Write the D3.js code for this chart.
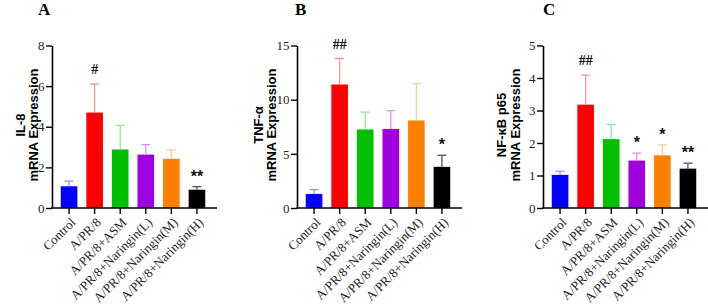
<!DOCTYPE html>
<html><head><meta charset="utf-8">
<script src="https://cdn.jsdelivr.net/npm/d3@7"></script>
<style>
body{margin:0;background:#fff;}
svg{display:block;}
</style></head>
<body>
<svg id="chart" width="708" height="304"></svg>
<script>
const categories = ["Control","A/PR/8","A/PR/8+ASM","A/PR/8+Naringin(L)","A/PR/8+Naringin(M)","A/PR/8+Naringin(H)"];
const barColors = ["#0000ff","#ff0000","#00c000","#a000e0","#ff8000","#000000"];
const errColors = ["#8c8cff","#ff8c8c","#8ce68c","#d68cff","#ffc88c","#444444"];

const il8Mean = [1.07, 4.7, 2.88, 2.63, 2.42, 0.9];
const il8Err  = [0.25, 1.4, 1.19, 0.49, 0.44, 0.15];
const il8Marks = ["", "#", "", "", "", "**"];
const il8Ticks = [0, 2, 4, 6, 8];

const tnfMean = [1.3, 11.4, 7.25, 7.3, 8.08, 3.8];
const tnfErr  = [0.4, 2.4, 1.6, 1.68, 3.4, 1.07];
const tnfMarks = ["", "##", "", "", "", "*"];
const tnfTicks = [0, 5, 10, 15];

const nfkbMean = [1.02, 3.18, 2.12, 1.46, 1.62, 1.21];
const nfkbErr  = [0.11, 0.91, 0.45, 0.23, 0.32, 0.17];
const nfkbMarks = ["", "##", "", "*", "*", "**"];
const nfkbTicks = [0, 1, 2, 3, 4, 5];

const panels = [
  {letter:"A", lx:38, x0:52, title:["IL-8","mRNA Expression"], tx:[25,38], mean:il8Mean, err:il8Err, marks:il8Marks, ticks:il8Ticks},
  {letter:"B", lx:295, x0:297, title:["TNF-α","mRNA Expression"], tx:[263,276], mean:tnfMean, err:tnfErr, marks:tnfMarks, ticks:tnfTicks},
  {letter:"C", lx:543, x0:543, title:["NF-κB p65","mRNA Expression"], tx:[506,520], mean:nfkbMean, err:nfkbErr, marks:nfkbMarks, ticks:nfkbTicks}
];

const svg = d3.select("#chart");
const yBottom = 208, yTopPx = 45.5;
const serif = "'Liberation Serif','Times New Roman',serif";
const sans = "'Liberation Sans',Arial,sans-serif";

panels.forEach(p => {
  const g = svg.append("g");
  const maxV = p.ticks[p.ticks.length-1];
  const y = d3.scaleLinear().domain([0, maxV]).range([yBottom, yTopPx]);
  const x = d3.scaleBand().domain(categories).range([p.x0 + 8.75, p.x0 + 153.25]).paddingInner(0.35).paddingOuter(0);

  // panel letter
  g.append("text").attr("x", p.lx).attr("y", 15).text(p.letter)
    .attr("font-family", serif).attr("font-weight", "bold").attr("font-size", 17);

  // y title
  p.title.forEach((t, i) => {
    g.append("text").text(t)
      .attr("transform", `translate(${p.tx[i]},125) rotate(-90)`)
      .attr("text-anchor", "middle")
      .attr("font-family", sans).attr("font-weight", "bold").attr("font-size", 13);
  });

  // bars
  g.selectAll(".bar").data(p.mean).enter().append("rect")
    .attr("x", (d, i) => x(categories[i]))
    .attr("width", x.bandwidth())
    .attr("y", d => y(d))
    .attr("height", d => yBottom - y(d))
    .attr("fill", (d, i) => barColors[i]);

  // error bars (upper only)
  const eg = g.selectAll(".err").data(p.mean).enter().append("g");
  eg.append("line")
    .attr("x1", (d, i) => x(categories[i]) + x.bandwidth()/2)
    .attr("x2", (d, i) => x(categories[i]) + x.bandwidth()/2)
    .attr("y1", d => y(d))
    .attr("y2", (d, i) => y(d + p.err[i]))
    .attr("stroke", (d, i) => errColors[i]).attr("stroke-width", 1.2);
  eg.append("line")
    .attr("x1", (d, i) => x(categories[i]) + x.bandwidth()/2 - 4.5)
    .attr("x2", (d, i) => x(categories[i]) + x.bandwidth()/2 + 4.5)
    .attr("y1", (d, i) => y(d + p.err[i]))
    .attr("y2", (d, i) => y(d + p.err[i]))
    .attr("stroke", (d, i) => errColors[i]).attr("stroke-width", 1.2);

  // significance marks
  g.selectAll(".mark").data(p.marks).enter().append("text")
    .attr("x", (d, i) => x(categories[i]) + x.bandwidth()/2)
    .attr("y", (d, i) => y(p.mean[i] + p.err[i]) - (d.startsWith("#") ? 10 : 5))
    .attr("text-anchor", "middle")
    .attr("font-family", d => d.startsWith("#") ? serif : sans)
    .attr("font-size", d => d.startsWith("#") ? 14 : 16)
    .attr("font-weight", "bold")
    .attr("fill", "#111")
    .text(d => d);

  // y axis
  const ya = g.append("g").attr("transform", `translate(${p.x0},0)`)
    .call(d3.axisLeft(y).tickValues(p.ticks).tickFormat(d3.format("d")).tickSize(6).tickSizeOuter(0).tickPadding(1.5));
  ya.select(".domain").attr("stroke-width", 1.6);
  ya.selectAll(".tick line").attr("stroke-width", 1.4);
  ya.selectAll(".tick text").attr("font-family", serif).attr("font-size", 13).attr("fill", "#222");

  // x axis
  const xa = g.append("g").attr("transform", `translate(0,${yBottom})`)
    .call(d3.axisBottom(x).tickSize(6).tickSizeOuter(0));
  xa.select(".domain").remove();
  xa.selectAll(".tick line").attr("stroke-width", 1.4);
  xa.selectAll(".tick text")
    .attr("font-family", serif).attr("font-size", 13).attr("fill", "#222")
    .attr("text-anchor", "end")
    .attr("x", 0).attr("y", 0).attr("dy", "0.35em")
    .attr("transform", "translate(4,12) rotate(-45)");
  g.append("line").attr("x1", p.x0 - 0.8).attr("x2", p.x0 + 165).attr("y1", yBottom).attr("y2", yBottom)
    .attr("stroke", "#000").attr("stroke-width", 1.6);
});
</script>
</body></html>
